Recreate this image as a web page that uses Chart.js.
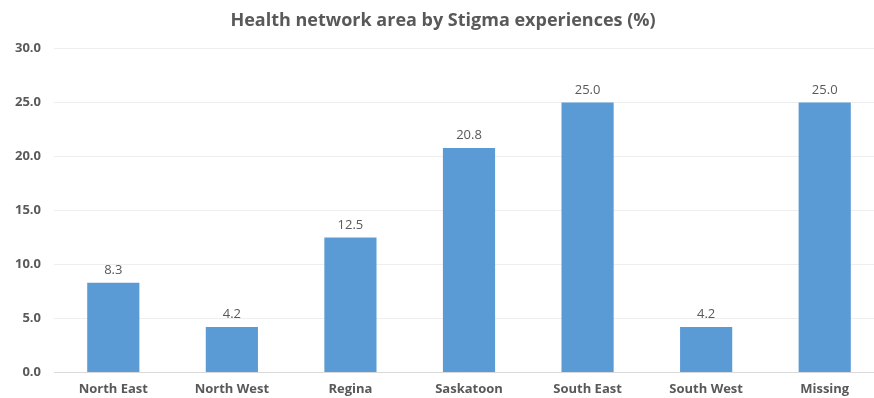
<!DOCTYPE html>
<html>
<head>
<meta charset="utf-8">
<script src="https://cdn.jsdelivr.net/npm/chart.js@4/dist/chart.umd.min.js"></script>
<style>
  html, body { margin: 0; padding: 0; background: #fff; overflow: hidden; }
  #wrap { width: 884px; height: 398px; }
</style>
</head>
<body>
<div id="wrap"><canvas id="stigma"></canvas></div>
<script>
var areas = ["North East", "North West", "Regina", "Saskatoon", "South East", "South West", "Missing"];
var percent = [8.3, 4.2, 12.5, 20.8, 25.0, 4.2, 25.0];
var yTicks = [0, 5, 10, 15, 20, 25, 30];

// writes the value above each bar
var valueLabels = {
  id: 'valueLabels',
  afterDatasetsDraw: function(chart) {
    var ctx = chart.ctx;
    var meta = chart.getDatasetMeta(0);
    ctx.save();
    ctx.font = '13px "Open Sans", sans-serif';
    ctx.fillStyle = '#595959';
    ctx.textAlign = 'center';
    ctx.textBaseline = 'bottom';
    meta.data.forEach(function(bar, i) {
      ctx.fillText(percent[i].toFixed(1), bar.x, bar.y - 6);
    });
    ctx.restore();
  }
};

new Chart(document.getElementById("stigma"), {
  type: 'bar',
  data: {
    labels: areas,
    datasets: [{
      label: "Stigma experiences",
      data: percent,
      backgroundColor: '#5B9BD5',
      categoryPercentage: 1.0,
      barPercentage: 0.44
    }]
  },
  plugins: [valueLabels],
  options: {
    responsive: true,
    maintainAspectRatio: false,
    animation: false,
    layout: { padding: { left: 2, right: 0, top: 8, bottom: 0 } },
    plugins: {
      legend: { display: false },
      tooltip: { enabled: false },
      title: {
        display: true,
        text: 'Health network area by Stigma experiences (%)',
        color: '#595959',
        font: { family: '"Open Sans", sans-serif', size: 18, weight: 'bold' },
        padding: { top: 2, bottom: 17 }
      }
    },
    scales: {
      x: {
        grid: { display: false },
        border: { color: '#d9d9d9' },
        ticks: {
          color: '#595959',
          font: { family: '"Open Sans", sans-serif', size: 13, weight: 'bold' },
          padding: 1
        }
      },
      y: {
        min: 0,
        max: 30,
        afterBuildTicks: function(axis) {
          axis.ticks = yTicks.map(function(v) { return { value: v }; });
        },
        grid: { color: '#eeeeee', drawTicks: false },
        border: { display: false },
        ticks: {
          color: '#595959',
          font: { family: '"Open Sans", sans-serif', size: 13, weight: 'bold' },
          padding: 13,
          callback: function(v) { return v.toFixed(1); }
        }
      }
    }
  }
});
</script>
</body>
</html>
